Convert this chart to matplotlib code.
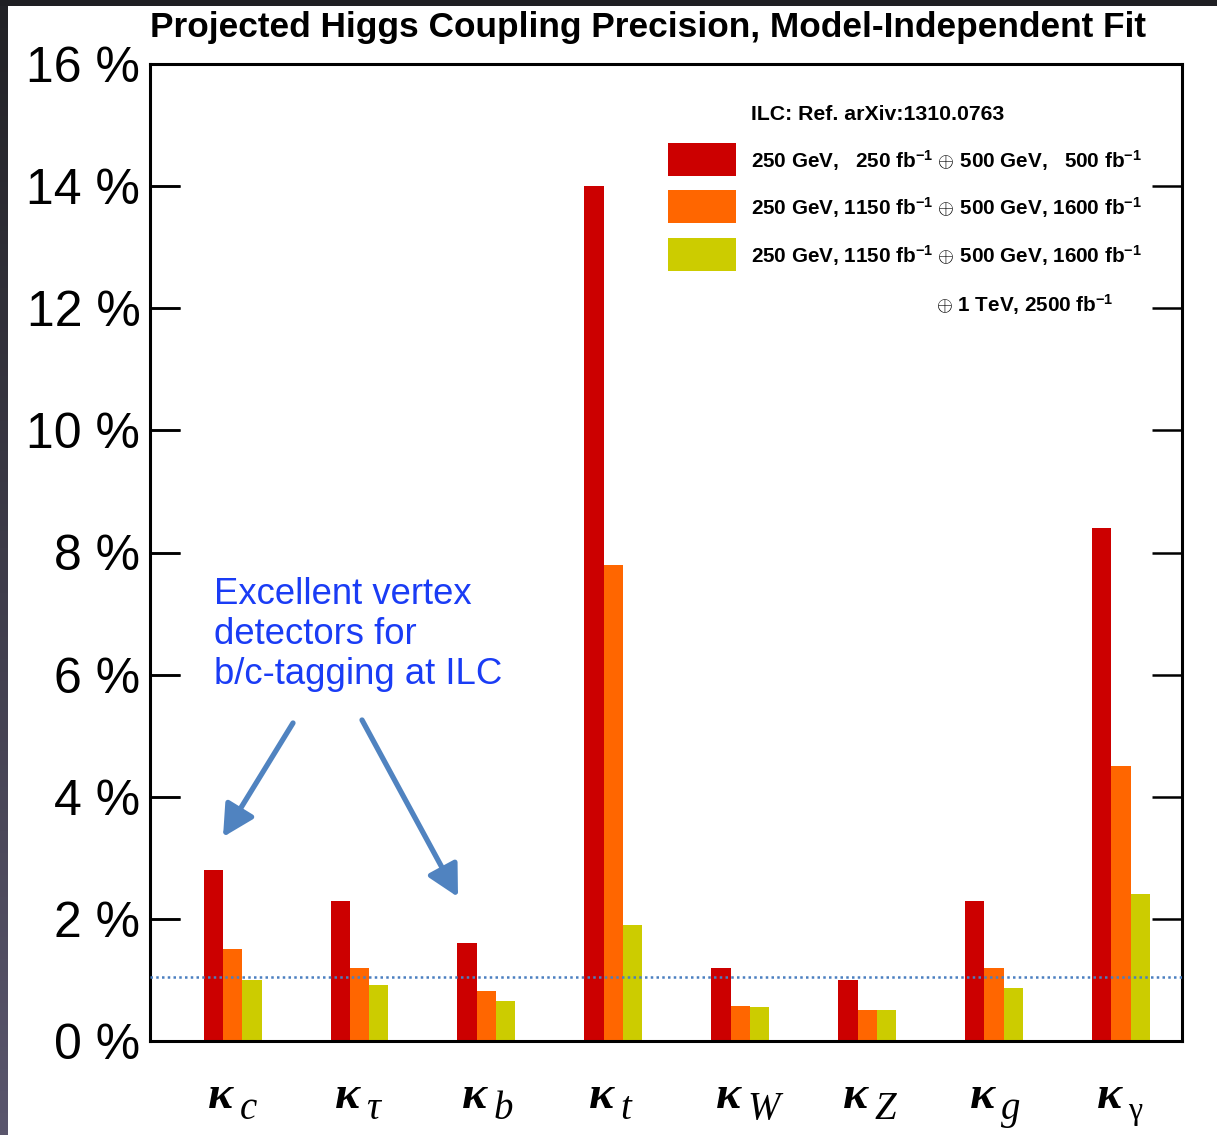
import numpy as np
import matplotlib
matplotlib.use("Agg")
import matplotlib.pyplot as plt
from matplotlib.patches import Rectangle, FancyArrowPatch
from matplotlib.transforms import blended_transform_factory, offset_copy
from matplotlib.colors import LinearSegmentedColormap

plt.rcParams['font.family'] = ['Liberation Sans', 'DejaVu Sans']
plt.rcParams['mathtext.fontset'] = 'custom'
plt.rcParams['mathtext.rm'] = 'Liberation Sans:bold'
plt.rcParams['mathtext.bf'] = 'Liberation Sans:bold'
plt.rcParams['mathtext.it'] = 'Liberation Sans:bold:italic'

# ---------------- data ----------------
kappa_subs = ["c", "τ", "b", "t", "W", "Z", "g", "γ"]
run_a = [2.8, 2.3, 1.6, 14.0, 1.2, 1.0, 2.3, 8.4]      # 250 GeV 250 fb-1 + 500 GeV 500 fb-1
run_b = [1.5, 1.2, 0.82, 7.8, 0.58, 0.5, 1.2, 4.5]     # 1150 + 1600
run_c = [1.0, 0.92, 0.66, 1.9, 0.56, 0.5, 0.87, 2.4]   # + 1 TeV 2500
ref_line = 1.05
y_ticks = [0, 2, 4, 6, 8, 10, 12, 14, 16]
y_tick_labels = ["%d %%" % v for v in y_ticks]
series_labels = [
    r"250 GeV,   250 fb$^{-1}$ $\oplus$ 500 GeV,   500 fb$^{-1}$",
    r"250 GeV, 1150 fb$^{-1}$ $\oplus$ 500 GeV, 1600 fb$^{-1}$",
    r"250 GeV, 1150 fb$^{-1}$ $\oplus$ 500 GeV, 1600 fb$^{-1}$",
]
extra_label = r"$\oplus$ 1 TeV, 2500 fb$^{-1}$"
colors = ["#cc0000", "#ff6600", "#cccc00"]

W, H = 1217, 1135
fig = plt.figure(figsize=(W / 100, H / 100), dpi=100)
fig.patch.set_facecolor("white")

def fx(px):
    return px / W

def fy(py):
    return 1 - py / H

ax = fig.add_axes([fx(150), fy(1041), fx(1182) - fx(150), (1041 - 64) / H])

x = np.arange(len(kappa_subs))
bw = 0.152
for vals, col, off in zip([run_a, run_b, run_c], colors, [-bw, 0, bw]):
    ax.bar(x + off, vals, width=bw, color=col, edgecolor='none', zorder=2)

ax.axhline(ref_line, color="#4a7fc0", linestyle=(0, (1, 1.3)), linewidth=1.8, zorder=3)

ax.set_xlim(-0.651, 7.481)
ax.set_ylim(0, 16)
ax.set_yticks(y_ticks)
ax.set_yticklabels(y_tick_labels, fontsize=36)
ax.set_xticks([])
ax.tick_params(axis='y', which='major', direction='in', length=21.5, width=1.8, pad=7,
               right=True, left=True, labelleft=True, labelright=False)
for s in ax.spines.values():
    s.set_linewidth(2.2)

# explicit inward tick marks on the left side (from the tick values)
tick_frac = 30 / 1032
ax.hlines(y_ticks[1:-1], 0, tick_frac, transform=ax.get_yaxis_transform(),
          colors='black', linewidth=1.8, zorder=4, clip_on=False)

# category labels kappa_sub
trans = blended_transform_factory(ax.transData, ax.transAxes)
for xi, sub in zip(x, kappa_subs):
    t1 = offset_copy(trans, fig=fig, x=-12, y=0, units='dots')
    ax.text(xi, -(1108 - 1041) / 977, "κ", transform=t1, ha='center', va='baseline',
            fontsize=34, family=['Liberation Serif', 'DejaVu Serif'],
            fontweight='bold', fontstyle='italic', clip_on=False)
    t2 = offset_copy(trans, fig=fig, x=7, y=0, units='dots')
    ax.text(xi, -(1119 - 1041) / 977, sub, transform=t2, ha='left', va='baseline',
            fontsize=28 if sub != "γ" else 23, family=['Liberation Serif', 'DejaVu Serif'],
            fontstyle='italic' if sub != "γ" else 'normal', clip_on=False)

# title
fig.text(fx(150), fy(37), "Projected Higgs Coupling Precision, Model-Independent Fit",
         ha='left', va='baseline', fontsize=25.4, fontweight='bold')

# legend
fig.text(fx(751), fy(120), "ILC: Ref. arXiv:1310.0763", ha='left', va='baseline',
         fontsize=15.3, fontweight='bold')
box_tops = [143, 190, 238]
for top, col, lab in zip(box_tops, colors, series_labels):
    fig.patches.append(Rectangle((fx(668), fy(top + 33)), fx(736) - fx(668), 33 / H,
                                 transform=fig.transFigure, facecolor=col,
                                 edgecolor='none'))
    fig.text(fx(751), fy(top + 25), lab, ha='left', va='baseline',
             fontsize=14.9, fontweight='bold')
fig.text(fx(936), fy(312), extra_label, ha='left', va='baseline',
         fontsize=14.9, fontweight='bold')

# annotation
fig.text(fx(214), fy(684), "Excellent vertex\ndetectors for\nb/c-tagging at ILC",
         ha='left', va='baseline', fontsize=26.3, color="#1a3cf5", linespacing=1.19)
for (x0, y0), (x1, y1) in [((293, 723), (223, 837)), ((362, 720), (458, 897))]:
    arr = FancyArrowPatch((fx(x0), fy(y0)), (fx(x1), fy(y1)), transform=fig.transFigure,
                          arrowstyle="-|>,head_length=19,head_width=10",
                          mutation_scale=1, linewidth=3.8, color="#5083c0",
                          shrinkA=0, shrinkB=0)
    fig.patches.append(arr)

# dark screenshot borders
fig.patches.append(Rectangle((0, fy(6)), 1, 6 / H, transform=fig.transFigure,
                             facecolor="#1f1f23", edgecolor='none', zorder=10))
gax = fig.add_axes([0, 0, fx(8), fy(6)])
cmap = LinearSegmentedColormap.from_list("g", ["#222226", "#5a566d"])
gax.imshow(np.linspace(0, 1, 256).reshape(-1, 1), aspect='auto', cmap=cmap)
gax.axis('off')

fig.savefig("out.png", dpi=100, facecolor="white")
